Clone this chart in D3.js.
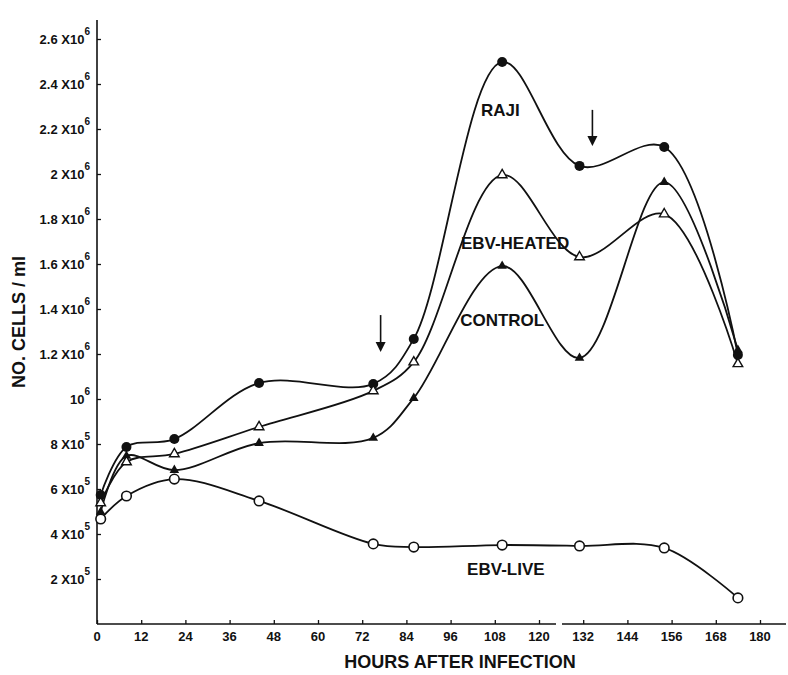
<!DOCTYPE html>
<html>
<head>
<meta charset="utf-8">
<script src="https://cdn.jsdelivr.net/npm/d3@7"></script>
<style>
  body { margin: 0; background: #fff; }
  svg text { font-family: "Liberation Sans", Arial, sans-serif; font-weight: bold; fill: #111; }
</style>
</head>
<body>
<div id="chart"></div>
<script>
// hours after infection at which the counts were taken
const hours = [1, 8, 21, 44, 75, 86, 110, 131, 154, 174];

// cells / ml for each culture
const raji       = [573e3, 787e3, 822e3, 1071e3, 1067e3, 1267e3, 2498e3, 2036e3, 2120e3, 1196e3];
const ebvHeated  = [538e3, 720e3, 756e3, 876e3, 1036e3, 1164e3, 1996e3, 1631e3, 1822e3, 1156e3];
const control    = [498e3, 747e3, 684e3, 804e3, 827e3, 1004e3, 1591e3, 1182e3, 1964e3, 1218e3];
const ebvLive    = [467e3, 569e3, 644e3, 547e3, 356e3, 342e3, 351e3, 347e3, 338e3, 116e3];

const seriesNames = ["RAJI", "EBV-HEATED", "CONTROL", "EBV-LIVE"];
const labelHours  = [109.5, 113.5, 110, 111];
const labelValues = [2285e3, 1693e3, 1351e3, 244e3];

const xTicks = [0, 12, 24, 36, 48, 60, 72, 84, 96, 108, 120, 132, 144, 156, 168, 180];
const yTicks = [2e5, 4e5, 6e5, 8e5, 1e6, 1.2e6, 1.4e6, 1.6e6, 1.8e6, 2e6, 2.2e6, 2.4e6, 2.6e6];
const yTickMantissa = ["2 X10", "4 X10", "6 X10", "8 X10", "10", "1.2 X10", "1.4 X10", "1.6 X10", "1.8 X10", "2 X10", "2.2 X10", "2.4 X10", "2.6 X10"];
const yTickExponent = ["5", "5", "5", "5", "6", "6", "6", "6", "6", "6", "6", "6", "6"];

// the two arrows (time of addition), top and tip values
const arrowHours = [77, 134.5];
const arrowTop   = [1373e3, 2285e3];
const arrowTip   = [1209e3, 2124e3];

const width = 788, height = 675;

const x = d3.scaleLinear().domain([0, 180]).range([97, 760]);
const y = d3.scaleLinear().domain([0, 2.6e6]).range([624, 39]);

const svg = d3.select("#chart").append("svg")
    .attr("width", width)
    .attr("height", height);

// axes
const yAxis = d3.axisLeft(y).tickValues(yTicks).tickSizeInner(-4).tickSizeOuter(0).tickFormat("");
svg.append("g").attr("transform", "translate(97,0)").call(yAxis)
    .call(g => g.select(".domain").remove())
    .selectAll("line").attr("stroke", "#111").attr("stroke-width", 1.3);
svg.append("line").attr("x1", 97).attr("x2", 97).attr("y1", 20).attr("y2", y(0))
    .attr("stroke", "#111").attr("stroke-width", 1.6);

const xAxis = d3.axisBottom(x).tickValues(xTicks).tickSizeInner(-4).tickSizeOuter(0).tickFormat("");
svg.append("g").attr("transform", "translate(0," + y(0) + ")").call(xAxis)
    .call(g => g.select(".domain").remove())
    .selectAll("line").attr("stroke", "#111").attr("stroke-width", 1.3);
svg.append("line").attr("x1", 97).attr("x2", 556).attr("y1", y(0)).attr("y2", y(0))
    .attr("stroke", "#111").attr("stroke-width", 1.4);
svg.append("line").attr("x1", 562).attr("x2", 786).attr("y1", y(0)).attr("y2", y(0))
    .attr("stroke", "#111").attr("stroke-width", 1.4);

svg.append("g").selectAll("text")
    .data(xTicks)
    .enter().append("text")
    .attr("x", d => x(d))
    .attr("y", y(0) + 17)
    .attr("text-anchor", "middle")
    .style("font-size", "13px")
    .text(d => d);

const yLab = svg.append("g").selectAll("text")
    .data(yTicks)
    .enter().append("text")
    .attr("x", 90)
    .attr("y", d => y(d) + 5)
    .attr("text-anchor", "end")
    .style("font-size", "13px");
yLab.append("tspan").text((d, i) => yTickMantissa[i]);
yLab.append("tspan").attr("dy", -9).style("font-size", "10px").text((d, i) => yTickExponent[i]);

svg.append("text")
    .attr("transform", "translate(25,322) rotate(-90)")
    .attr("text-anchor", "middle")
    .style("font-size", "18px")
    .text("NO. CELLS / ml");

svg.append("text")
    .attr("x", 460)
    .attr("y", 668)
    .attr("text-anchor", "middle")
    .style("font-size", "18px")
    .text("HOURS AFTER INFECTION");

// curves
const line = d3.line()
    .x((d, i) => x(hours[i]))
    .y(d => y(d))
    .curve(d3.curveCatmullRom.alpha(0.5));

const allSeries = [raji, ebvHeated, control, ebvLive];
svg.append("g").selectAll("path")
    .data(allSeries)
    .enter().append("path")
    .attr("d", line)
    .attr("fill", "none")
    .attr("stroke", "#111")
    .attr("stroke-width", 1.8);

// markers
const tri = d3.symbol().type(d3.symbolTriangle).size(40);

svg.append("g").selectAll("circle")
    .data(raji)
    .enter().append("circle")
    .attr("cx", (d, i) => x(hours[i]))
    .attr("cy", d => y(d))
    .attr("r", 5)
    .attr("fill", "#111");

svg.append("g").selectAll("circle")
    .data(ebvLive)
    .enter().append("circle")
    .attr("cx", (d, i) => x(hours[i]))
    .attr("cy", d => y(d))
    .attr("r", 4.8)
    .attr("fill", "#fff")
    .attr("stroke", "#111")
    .attr("stroke-width", 1.6);

svg.append("g").selectAll("path")
    .data(control)
    .enter().append("path")
    .attr("transform", (d, i) => "translate(" + x(hours[i]) + "," + y(d) + ")")
    .attr("d", tri)
    .attr("fill", "#111");

svg.append("g").selectAll("path")
    .data(ebvHeated)
    .enter().append("path")
    .attr("transform", (d, i) => "translate(" + x(hours[i]) + "," + y(d) + ")")
    .attr("d", tri)
    .attr("fill", "#fff")
    .attr("stroke", "#111")
    .attr("stroke-width", 1.4);

// arrows
const arrows = svg.append("g");
arrowHours.forEach((h, i) => {
    const ax = x(h), y0 = y(arrowTop[i]), y1 = y(arrowTip[i]);
    arrows.append("line").attr("x1", ax).attr("x2", ax).attr("y1", y0).attr("y2", y1 - 8)
        .attr("stroke", "#111").attr("stroke-width", 1.6);
    arrows.append("path")
        .attr("d", "M" + (ax - 5) + "," + (y1 - 10) + "L" + (ax + 5) + "," + (y1 - 10) + "L" + ax + "," + y1 + "Z")
        .attr("fill", "#111");
});

// series labels
svg.append("g").selectAll("text")
    .data(seriesNames)
    .enter().append("text")
    .attr("x", (d, i) => x(labelHours[i]))
    .attr("y", (d, i) => y(labelValues[i]))
    .attr("dy", "0.35em")
    .attr("text-anchor", "middle")
    .style("font-size", "17px")
    .text(d => d);
</script>
</body>
</html>
